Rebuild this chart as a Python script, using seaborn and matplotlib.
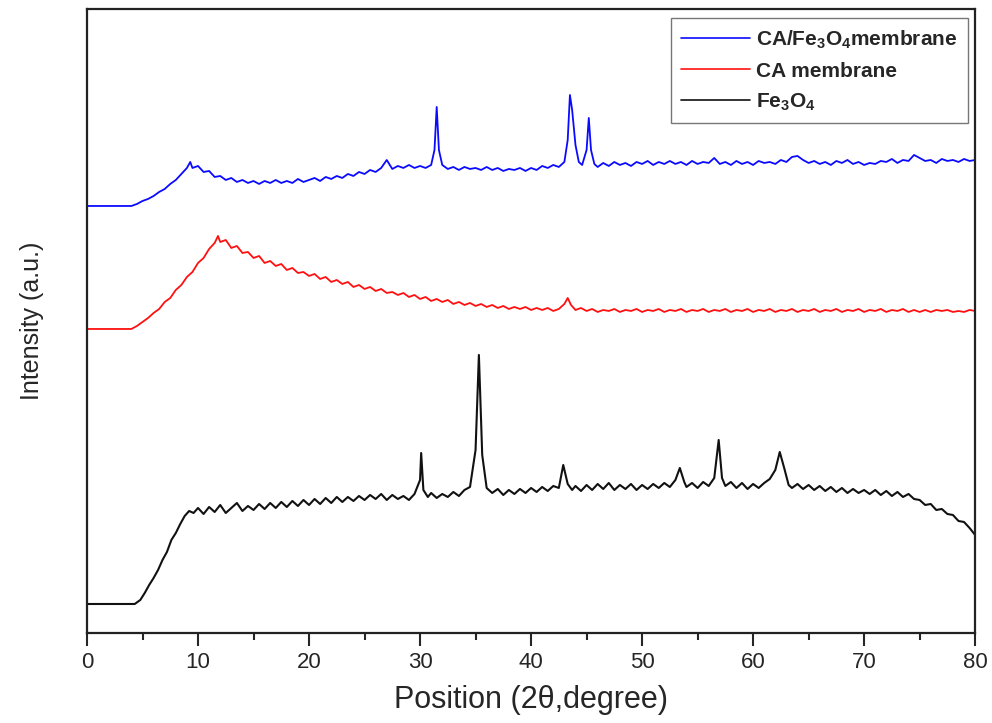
import matplotlib
matplotlib.use("Agg")
import matplotlib.pyplot as plt
from matplotlib.lines import Line2D
import seaborn as sns
import pandas as pd

# ---------------- data (intensity in arbitrary units) ----------------
blue_x = [0, 4, 4.5, 5, 5.5, 6, 6.5, 7, 7.5, 8, 8.5, 9, 9.3, 9.5, 10, 10.5, 11, 11.5, 12, 12.5,
          13, 13.5, 14, 14.5, 15, 15.5, 16, 16.5, 17, 17.5, 18, 18.5, 19, 19.5, 20, 20.5, 21, 21.5,
          22, 22.5, 23, 23.5, 24, 24.5, 25, 25.5, 26, 26.5, 27, 27.5, 28, 28.5, 29, 29.5, 30, 30.5,
          31, 31.3, 31.5, 31.7, 32, 32.5, 33, 33.5, 34, 34.5, 35, 35.5, 36, 36.5, 37, 37.5, 38, 38.5,
          39, 39.5, 40, 40.5, 41, 41.5, 42, 42.5, 43, 43.3, 43.5, 43.7, 44, 44.3, 44.6, 45.0, 45.2,
          45.4, 45.7, 46, 46.5, 47, 47.5, 48, 48.5, 49, 49.5, 50, 50.5, 51, 51.5, 52, 52.5, 53, 53.5,
          54, 54.5, 55, 55.5, 56, 56.5, 57, 57.5, 58, 58.5, 59, 59.5, 60, 60.5, 61, 61.5, 62, 62.5,
          63, 63.5, 64, 64.5, 65, 65.5, 66, 66.5, 67, 67.5, 68, 68.5, 69, 69.5, 70, 70.5, 71, 71.5,
          72, 72.5, 73, 73.5, 74, 74.5, 75, 75.5, 76, 76.5, 77, 77.5, 78, 78.5, 79, 79.5, 80]
blue_y = [427, 427, 429, 432, 434, 437, 441, 444, 449, 453, 459, 465, 471, 465, 467, 461, 462, 456, 457, 453,
          455, 451, 453, 450, 452, 449, 452, 450, 453, 450, 452, 450, 454, 451, 453, 455, 452, 456,
          454, 457, 455, 459, 457, 461, 459, 463, 461, 465, 473, 464, 467, 465, 468, 465, 467, 465,
          468, 483, 526, 483, 468, 464, 466, 463, 466, 464, 465, 463, 466, 463, 465, 462, 464, 463,
          465, 462, 465, 463, 467, 465, 468, 466, 471, 493, 538, 523, 488, 471, 468, 483, 515,
          483, 469, 466, 470, 467, 471, 468, 470, 467, 471, 469, 472, 468, 471, 469, 472, 469, 471,
          468, 472, 469, 471, 470, 475, 469, 471, 468, 472, 469, 471, 468, 472, 470, 471, 469, 473,
          471, 476, 477, 473, 470, 472, 469, 471, 468, 472, 470, 473, 469, 471, 468, 470, 469, 472,
          471, 474, 470, 473, 472, 478, 475, 472, 473, 470, 474, 472, 473, 471, 474, 472, 473]

red_x = [0, 4, 4.5, 5, 5.5, 6, 6.5, 7, 7.5, 8, 8.5, 9, 9.5, 10, 10.5, 11, 11.5, 11.8, 12, 12.5,
         13, 13.5, 14, 14.5, 15, 15.5, 16, 16.5, 17, 17.5, 18, 18.5, 19, 19.5, 20, 20.5, 21, 21.5,
         22, 22.5, 23, 23.5, 24, 24.5, 25, 25.5, 26, 26.5, 27, 27.5, 28, 28.5, 29, 29.5, 30, 30.5,
         31, 31.5, 32, 32.5, 33, 33.5, 34, 34.5, 35, 35.5, 36, 36.5, 37, 37.5, 38, 38.5, 39, 39.5,
         40, 40.5, 41, 41.5, 42, 42.5, 43, 43.3, 43.6, 44, 44.5, 45, 45.5, 46, 46.5, 47, 47.5, 48,
         48.5, 49, 49.5, 50, 50.5, 51, 51.5, 52, 52.5, 53, 53.5, 54, 54.5, 55, 55.5, 56, 56.5, 57,
         57.5, 58, 58.5, 59, 59.5, 60, 60.5, 61, 61.5, 62, 62.5, 63, 63.5, 64, 64.5, 65, 65.5, 66,
         66.5, 67, 67.5, 68, 68.5, 69, 69.5, 70, 70.5, 71, 71.5, 72, 72.5, 73, 73.5, 74, 74.5, 75,
         75.5, 76, 76.5, 77, 77.5, 78, 78.5, 79, 79.5, 80]
red_y = [304, 304, 307, 311, 315, 320, 324, 331, 335, 343, 348, 356, 361, 370, 375, 384, 390, 397, 391, 393,
         385, 387, 380, 381, 375, 377, 370, 372, 367, 369, 363, 365, 360, 361, 357, 359, 354, 356,
         351, 353, 349, 351, 346, 348, 344, 346, 342, 344, 340, 341, 338, 340, 336, 338, 334, 336,
         332, 334, 331, 333, 329, 331, 328, 330, 327, 329, 326, 328, 325, 327, 324, 326, 324, 326,
         323, 325, 323, 325, 322, 324, 329, 335, 328, 323, 325, 322, 324, 321, 323, 322, 324, 321,
         323, 322, 324, 321, 323, 322, 324, 321, 323, 322, 324, 321, 323, 322, 324, 321, 323, 322,
         324, 321, 323, 322, 324, 321, 323, 322, 324, 321, 323, 322, 324, 321, 323, 322, 324, 321,
         323, 322, 324, 321, 323, 322, 324, 321, 323, 322, 324, 321, 323, 322, 324, 321, 323, 321,
         323, 321, 323, 322, 323, 321, 322, 321, 323, 322]

black_x = [0, 4.3, 4.8, 5.2, 5.6, 6, 6.4, 6.8, 7.2, 7.6, 8, 8.4, 8.8, 9.2, 9.6, 10, 10.5, 11, 11.5, 12,
           12.5, 13, 13.5, 14, 14.5, 15, 15.5, 16, 16.5, 17, 17.5, 18, 18.5, 19, 19.5, 20, 20.5, 21,
           21.5, 22, 22.5, 23, 23.5, 24, 24.5, 25, 25.5, 26, 26.5, 27, 27.5, 28, 28.5, 29, 29.5, 30.0,
           30.1, 30.3, 30.7, 31, 31.5, 32, 32.5, 33, 33.5, 34, 34.5, 35.0, 35.3, 35.6, 36.0, 36.5, 37,
           37.5, 38, 38.5, 39, 39.5, 40, 40.5, 41, 41.5, 42, 42.5, 42.9, 43.3, 43.7, 44, 44.5, 45,
           45.5, 46, 46.5, 47, 47.5, 48, 48.5, 49, 49.5, 50, 50.5, 51, 51.5, 52, 52.5, 53, 53.4, 53.8,
           54, 54.5, 55, 55.5, 56, 56.5, 56.9, 57.2, 57.5, 58, 58.5, 59, 59.5, 60, 60.5, 61, 61.5, 62,
           62.4, 62.8, 63.2, 63.5, 64, 64.5, 65, 65.5, 66, 66.5, 67, 67.5, 68, 68.5, 69, 69.5, 70,
           70.5, 71, 71.5, 72, 72.5, 73, 73.5, 74, 74.5, 75, 75.5, 76, 76.5, 77, 77.5, 78, 78.5, 79,
           79.5, 80]
black_y = [29, 29, 33, 40, 48, 55, 63, 73, 81, 93, 100, 109, 117, 122, 120, 125, 119, 126, 121, 128,
           120, 125, 130, 122, 127, 123, 129, 124, 130, 125, 131, 126, 132, 127, 133, 128, 134, 129,
           135, 130, 136, 131, 136, 132, 137, 133, 138, 134, 139, 133, 138, 134, 137, 133, 139, 153,
           180, 143, 136, 140, 135, 139, 136, 141, 137, 143, 146, 183, 278, 178, 145, 140, 144,
           138, 143, 139, 144, 140, 145, 141, 146, 142, 147, 145, 168, 149, 143, 147, 142, 148,
           143, 149, 144, 150, 143, 148, 144, 149, 143, 148, 144, 149, 145, 150, 146, 153, 165, 151,
           146, 150, 145, 151, 147, 155, 193, 155, 147, 151, 145, 150, 144, 149, 145, 150, 154, 163,
           181, 165, 148, 145, 149, 144, 148, 143, 147, 142, 146, 141, 145, 140, 144, 140, 143,
           139, 143, 138, 142, 137, 141, 136, 139, 134, 133, 128, 129, 123, 124, 119, 118, 112, 111,
           105, 98]

series_labels = [r"CA/Fe$_\mathbf{3}$O$_\mathbf{4}$membrane", "CA membrane", r"Fe$_\mathbf{3}$O$_\mathbf{4}$"]
series_colors = ["#0a0aff", "#ff1010", "#111111"]
series_widths = [1.3, 1.3, 1.5]
x_ticks = [0, 10, 20, 30, 40, 50, 60, 70, 80]
x_minor = [5, 15, 25, 35, 45, 55, 65, 75]

# ---------------- build table ----------------
frames = []
for name, xs, ys in zip(series_labels, [blue_x, red_x, black_x], [blue_y, red_y, black_y]):
    frames.append(pd.DataFrame({"pos": xs, "inten": ys, "series": name}))
df = pd.concat(frames, ignore_index=True)

sns.set_style("white")
plt.rcParams["font.family"] = ["Liberation Sans", "DejaVu Sans"]
plt.rcParams["mathtext.fontset"] = "custom"
plt.rcParams["mathtext.rm"] = "Liberation Sans"
plt.rcParams["mathtext.bf"] = "Liberation Sans:bold"

fig = plt.figure(figsize=(9.92, 7.23), dpi=100)
ax = fig.add_axes([0.0877, 0.1245, 0.8953, 0.8631])

for name, col, lw in zip(series_labels, series_colors, series_widths):
    sns.lineplot(data=df[df["series"] == name], x="pos", y="inten", color=col,
                 estimator=None, sort=False, linewidth=lw, ax=ax, legend=False)

ax.set_xlim(0, 80)
ax.set_ylim(0, 624)
ax.set_xticks(x_ticks)
ax.set_xticks(x_minor, minor=True)
ax.set_yticks([])
ax.tick_params(axis="x", which="major", direction="out", length=9, width=1.5,
               labelsize=16, bottom=True, pad=5)
ax.tick_params(axis="x", which="minor", direction="out", length=5, width=1.5, bottom=True)
for s in ax.spines.values():
    s.set_linewidth(1.6)
    s.set_color("#222222")

ax.set_xlabel("Position (2θ,degree)", fontsize=22, labelpad=8)
ax.set_ylabel("Intensity (a.u.)", fontsize=18, labelpad=31)

handles = [Line2D([], [], color=c, lw=1.2) for c in series_colors]
leg = ax.legend(handles, series_labels, loc="upper right", bbox_to_anchor=(0.992, 0.985),
                frameon=True, fancybox=False, edgecolor="#555555", handlelength=3.3,
                prop={"weight": "bold", "size": 15}, borderpad=0.5, labelspacing=0.5,
                handletextpad=0.3, borderaxespad=0)
leg.get_frame().set_linewidth(1.0)

fig.savefig("out.png", dpi=100)
